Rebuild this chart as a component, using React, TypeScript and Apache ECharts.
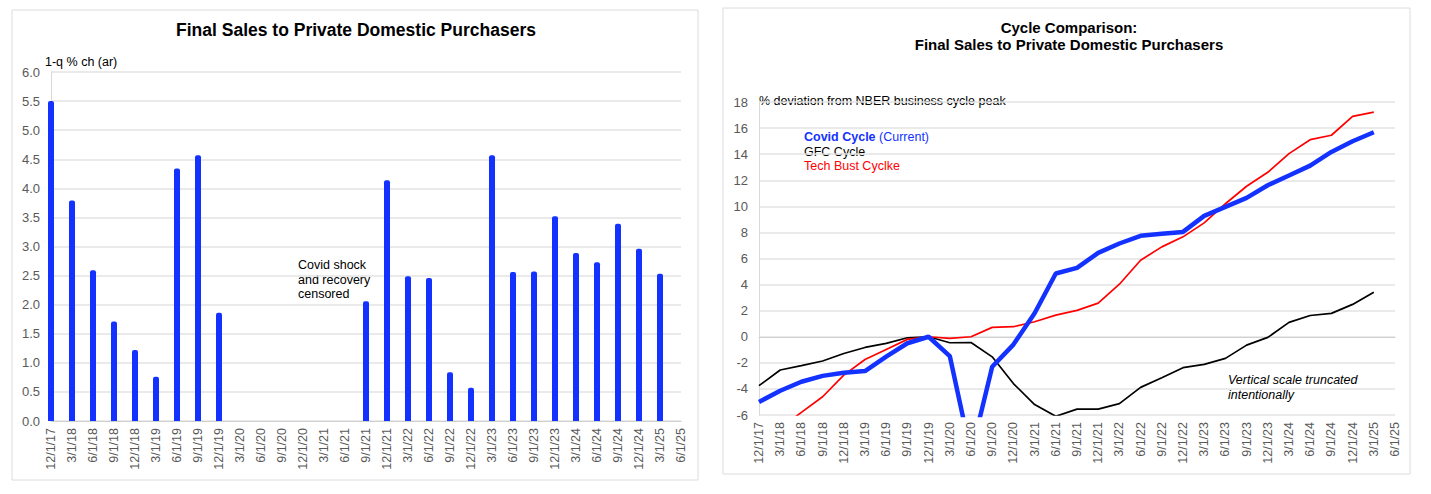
import React, { useEffect, useRef } from "react";
import * as echarts from "echarts";

const quarters = [
  "12/1/17", "3/1/18", "6/1/18", "9/1/18", "12/1/18", "3/1/19", "6/1/19", "9/1/19", "12/1/19",
  "3/1/20", "6/1/20", "9/1/20", "12/1/20", "3/1/21", "6/1/21", "9/1/21", "12/1/21",
  "3/1/22", "6/1/22", "9/1/22", "12/1/22", "3/1/23", "6/1/23", "9/1/23", "12/1/23",
  "3/1/24", "6/1/24", "9/1/24", "12/1/24", "3/1/25", "6/1/25",
];

const salesGrowth = [
  5.5, 3.79, 2.59, 1.71, 1.22, 0.76, 4.34, 4.57, 1.86,
  null, null, null, null, null, null,
  2.06, 4.14, 2.49, 2.46, 0.84, 0.57, 4.57, 2.56, 2.57, 3.52, 2.89, 2.73, 3.39, 2.96, 2.53,
  null,
];

const covidCycle = [
  -5.0, -4.14, -3.45, -3.0, -2.76, -2.63, -1.53, -0.5, 0, -1.48, -9.0, -2.3, -0.6, 1.8, 4.85,
  5.28, 6.43, 7.15, 7.74, 7.89, 8.04, 9.27, 9.96, 10.65, 11.62, 12.36, 13.12, 14.17, 14.99, 15.68,
  null,
];

const gfcCycle = [
  -3.75, -2.55, -2.22, -1.86, -1.28, -0.82, -0.51, -0.08, 0, -0.46, -0.44, -1.54, -3.59, -5.2, -6.1,
  -5.55, -5.55, -5.13, -3.88, -3.14, -2.37, -2.12, -1.66, -0.64, -0.05, 1.1, 1.63, 1.79, 2.48, 3.42,
  null,
];

const techBustCycle = [
  -8.2, -7.0, -5.8, -4.6, -2.94, -1.74, -0.97, -0.2, 0, -0.13, 0, 0.72, 0.77, 1.15, 1.66,
  2.02, 2.58, 4.03, 5.87, 6.89, 7.66, 8.73, 10.2, 11.54, 12.61, 14.04, 15.11, 15.45, 16.9, 17.23,
  null,
];

const leftTicks = [0, 6, 0.5];
const rightTicks = [-6, 18, 2];

const FONT = "'Liberation Sans', Arial, sans-serif";
const GRAY = "#595959";
const GRID = "#e3e3e3";
const BLUE = "#1432ff";

export default function App() {
  const ref = useRef<HTMLDivElement>(null);
  useEffect(() => {
    if (!ref.current) return;
    const chart = echarts.init(ref.current, null, { renderer: "svg" });
    const xAxisBase = (gridIndex: number) => ({
      type: "category",
      gridIndex,
      data: quarters,
      boundaryGap: false,
      axisLine: { lineStyle: { color: "#d0d0d0" } },
      axisTick: { show: false },
      axisLabel: {
        rotate: 90,
        interval: 0,
        color: GRAY,
        fontSize: 12.5,
        fontFamily: FONT,
        margin: 7,
      },
    });
    const yAxisBase = (gridIndex: number, t: number[], fmt: (v: number) => string) => ({
      type: "value",
      gridIndex,
      min: t[0],
      max: t[1],
      interval: t[2],
      axisLine: { show: true, lineStyle: { color: "#d9d9d9" } },
      axisTick: { show: false },
      splitLine: { lineStyle: { color: GRID, width: 1.5 } },
      axisLabel: {
        color: GRAY,
        fontSize: 13,
        fontFamily: FONT,
        margin: 11,
        formatter: fmt,
      },
    });
    chart.setOption({
      animation: false,
      backgroundColor: "#ffffff",
      grid: [
        { left: 51, right: 1431 - 681, top: 72, bottom: 494 - 421, containLabel: false },
        { left: 759, right: 1431 - 1395, top: 102, bottom: 494 - 415, containLabel: false },
      ],
      xAxis: [xAxisBase(0), xAxisBase(1)],
      yAxis: [
        yAxisBase(0, leftTicks, (v: number) => v.toFixed(1)),
        yAxisBase(1, rightTicks, (v: number) => String(v)),
      ],
      series: [
        {
          type: "bar",
          xAxisIndex: 0,
          yAxisIndex: 0,
          data: salesGrowth,
          barWidth: 6,
          itemStyle: { color: BLUE, borderRadius: [2, 2, 0, 0] },
        },
        {
          type: "line",
          name: "GFC Cycle",
          xAxisIndex: 1,
          yAxisIndex: 1,
          data: gfcCycle,
          symbol: "none",
          clip: true,
          lineStyle: { color: "#000000", width: 1.7 },
        },
        {
          type: "line",
          name: "Tech Bust Cyclke",
          xAxisIndex: 1,
          yAxisIndex: 1,
          data: techBustCycle,
          symbol: "none",
          clip: true,
          lineStyle: { color: "#ff0000", width: 1.7 },
        },
        {
          type: "line",
          name: "Covid Cycle",
          xAxisIndex: 1,
          yAxisIndex: 1,
          data: covidCycle,
          symbol: "none",
          clip: true,
          lineStyle: { color: BLUE, width: 4.5 },
        },
      ],
      graphic: [
        {
          type: "rect",
          shape: { x: 12, y: 10, width: 686, height: 470 },
          style: { fill: "none", stroke: "#dcdcdc", lineWidth: 1 },
          silent: true,
        },
        {
          type: "rect",
          shape: { x: 723, y: 8, width: 687, height: 466 },
          style: { fill: "none", stroke: "#dcdcdc", lineWidth: 1 },
          silent: true,
        },
        {
          type: "text",
          x: 356,
          y: 30,
          style: {
            text: "Final Sales to Private Domestic Purchasers",
            font: `bold 17.5px ${FONT}`,
            fill: "#000",
            align: "center",
            verticalAlign: "middle",
          },
        },
        {
          type: "text",
          x: 45,
          y: 62,
          style: {
            text: "1-q % ch (ar)",
            font: `12.5px ${FONT}`,
            fill: "#000",
            align: "left",
            verticalAlign: "middle",
          },
        },
        {
          type: "text",
          x: 298,
          y: 258,
          style: {
            text: "Covid shock\nand recovery\ncensored",
            font: `12.5px ${FONT}`,
            lineHeight: 14.5,
            fill: "#000",
            align: "left",
            verticalAlign: "top",
          },
        },
        {
          type: "text",
          x: 1069,
          y: 27,
          style: {
            text: "Cycle Comparison:",
            font: `bold 15px ${FONT}`,
            fill: "#000",
            align: "center",
            verticalAlign: "middle",
          },
        },
        {
          type: "text",
          x: 1069,
          y: 44,
          style: {
            text: "Final Sales to Private Domestic Purchasers",
            font: `bold 15px ${FONT}`,
            fill: "#000",
            align: "center",
            verticalAlign: "middle",
          },
        },
        {
          type: "text",
          x: 759,
          y: 101,
          style: {
            text: "% deviation from NBER business cycle peak",
            font: `12.5px ${FONT}`,
            fill: "#000",
            align: "left",
            verticalAlign: "middle",
          },
        },
        {
          type: "text",
          x: 804,
          y: 137,
          style: {
            text: "{b|Covid Cycle} {n|(Current)}",
            rich: {
              b: { font: `bold 12.5px ${FONT}`, fill: BLUE },
              n: { font: `12.5px ${FONT}`, fill: BLUE },
            },
            font: `12.5px ${FONT}`,
            fill: BLUE,
            align: "left",
            verticalAlign: "middle",
          },
        },
        {
          type: "text",
          x: 804,
          y: 152,
          style: {
            text: "GFC Cycle",
            font: `12.5px ${FONT}`,
            fill: "#000",
            align: "left",
            verticalAlign: "middle",
          },
        },
        {
          type: "text",
          x: 804,
          y: 166,
          style: {
            text: "Tech Bust Cyclke",
            font: `12.5px ${FONT}`,
            fill: "#ff0000",
            align: "left",
            verticalAlign: "middle",
          },
        },
        {
          type: "text",
          x: 1228,
          y: 372,
          style: {
            text: "Vertical scale truncated\nintentionally",
            font: `italic 12.5px ${FONT}`,
            lineHeight: 15,
            fill: "#000",
            align: "left",
            verticalAlign: "top",
          },
        },
      ],
    });
    return () => chart.dispose();
  }, []);
  return (
    <div
      ref={ref}
      style={{ position: "absolute", left: 0, top: 0, width: 1431, height: 494, background: "#fff" }}
    />
  );
}
